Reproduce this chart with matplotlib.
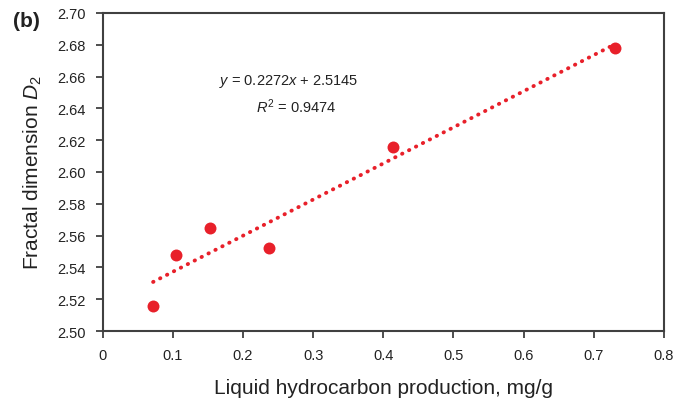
import numpy as np
import matplotlib.pyplot as plt

# liquid hydrocarbon production (mg/g) vs fractal dimension D2
production = [0.072, 0.105, 0.153, 0.237, 0.414, 0.730]
d2 = [2.516, 2.548, 2.565, 2.552, 2.616, 2.678]
slope, intercept, r2 = 0.2272, 2.5145, 0.9474

plt.rcParams['font.family'] = ['Liberation Sans', 'DejaVu Sans']
plt.rcParams['mathtext.fontset'] = 'custom'
plt.rcParams['mathtext.rm'] = 'Liberation Sans'
plt.rcParams['mathtext.it'] = 'Liberation Sans:italic'

red = '#e8202a'
dark = '#404040'

fig = plt.figure(figsize=(6.9, 4.1), dpi=100)
ax = fig.add_axes([0.1487, 0.1902, 0.8136, 0.7757])

# linear trend line
xl = np.array([min(production), max(production)])
ax.plot(xl, slope * xl + intercept, linestyle=(0, (0.1, 1.9)), color=red,
        linewidth=2.8, dash_capstyle='round')
ax.plot(production, d2, 'o', color=red, markersize=8.6, markeredgewidth=0)

ax.set_xlim(0, 0.8)
ax.set_ylim(2.50, 2.70)
ax.set_xticks(np.arange(0, 0.81, 0.1))
ax.set_xticklabels(['0', '0.1', '0.2', '0.3', '0.4', '0.5', '0.6', '0.7', '0.8'])
ax.set_yticks(np.arange(2.50, 2.701, 0.02))
ax.set_yticklabels([f'{v:.2f}' for v in np.arange(2.50, 2.701, 0.02)])
ax.tick_params(direction='out', length=5, width=1.3, color=dark,
               labelsize=10.5, labelcolor='#222222', pad=7)
for s in ax.spines.values():
    s.set_color(dark)
    s.set_linewidth(1.5)

ax.set_xlabel('Liquid hydrocarbon production, mg/g', fontsize=15,
              color='#222222', labelpad=12)
ax.set_ylabel('Fractal dimension $D_2$', fontsize=15, color='#222222',
              labelpad=10)

ax.text(0.2655, 2.6574, f'$y$ = {slope}$x$ + {intercept}', ha='center',
        va='center', fontsize=10.5, color='#222222')
ax.text(0.276, 2.6417, f'$R^2$ = {r2}', ha='center', va='center',
        fontsize=10.5, color='#222222')

fig.text(0.0384, 0.9476, '(b)', fontsize=15, fontweight='bold',
         ha='center', va='center', color='#222222')

fig.savefig('out.png', dpi=100)
